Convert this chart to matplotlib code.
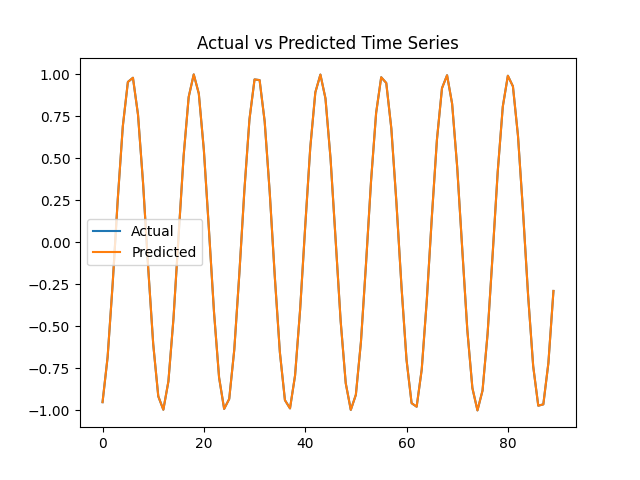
import matplotlib
matplotlib.use("Agg")
import matplotlib.pyplot as plt

actual = [-0.951, -0.683, -0.245, 0.255, 0.691, 0.955, 0.980, 0.760, 0.352, -0.146,
          -0.605, -0.916, -0.996, -0.827, -0.453, 0.035, 0.514, 0.865, 1.000, 0.886,
          0.549, 0.076, -0.415, -0.804, -0.991, -0.932, -0.639, -0.187, 0.312, 0.733,
          0.970, 0.966, 0.720, 0.297, -0.204, -0.654, -0.939, -0.988, -0.792, -0.399,
          0.094, 0.564, 0.893, 0.999, 0.857, 0.500, 0.018, -0.469, -0.838, -0.997,
          -0.907, -0.593, -0.129, 0.367, 0.771, 0.983, 0.949, 0.678, 0.239, -0.261,
          -0.699, -0.957, -0.978, -0.756, -0.345, 0.153, 0.611, 0.918, 0.995, 0.825,
          0.448, -0.041, -0.522, -0.867, -1.000, -0.882, -0.544, -0.070, 0.421, 0.808,
          0.992, 0.929, 0.634, 0.181, -0.317, -0.737, -0.972, -0.964, -0.718, -0.289]
predicted = list(actual)

fig, ax = plt.subplots(figsize=(6.4, 4.8), dpi=100)
ax.plot(actual, label="Actual")
ax.plot(predicted, label="Predicted")
ax.set_title("Actual vs Predicted Time Series")
ax.legend(loc="center left")
fig.savefig("out.png")
